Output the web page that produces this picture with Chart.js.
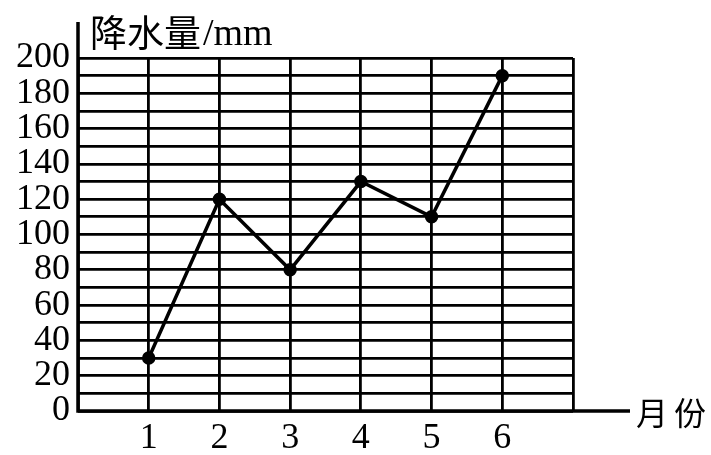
<!DOCTYPE html>
<html>
<head>
<meta charset="utf-8">
<script src="https://cdn.jsdelivr.net/npm/chart.js@4"></script>
<style>
  html, body { margin: 0; padding: 0; background: #fff; }
  #wrap { width: 711px; height: 455px; }
</style>
</head>
<body>
<div id="wrap"><canvas id="grafico" width="711" height="455"></canvas></div>
<script>
// dados
const meses = [1, 2, 3, 4, 5, 6];
const chuva = [30, 120, 80, 130, 110, 190];
const rotuloY = '降水量/mm';
const rotuloX = '月份';

const fonteNum = '"Liberation Serif", "DejaVu Serif", serif';
const fonteCJK = '"Noto Sans CJK SC", sans-serif';

// eixos prolongados e títulos
const eixosExtras = {
  id: 'eixosExtras',
  afterDraw(chart) {
    const { ctx, chartArea } = chart;
    ctx.save();
    ctx.strokeStyle = '#000';
    ctx.lineWidth = 3.5;
    ctx.beginPath();
    ctx.moveTo(chartArea.left, 22);
    ctx.lineTo(chartArea.left, chartArea.bottom);
    ctx.lineTo(630, chartArea.bottom);
    ctx.stroke();

    ctx.fillStyle = '#000';
    ctx.textBaseline = 'middle';
    ctx.textAlign = 'left';
    ctx.font = '37px ' + fonteCJK;
    ctx.fillText('降水量', 90, 33);
    ctx.font = '38px ' + fonteNum;
    ctx.fillText('/mm', 203, 35);
    ctx.font = '32px ' + fonteCJK;
    ctx.fillText(rotuloX[0], 636, 413);
    ctx.fillText(rotuloX[1], 674, 413);
    ctx.restore();
  }
};

new Chart(document.getElementById('grafico').getContext('2d'), {
  type: 'line',
  data: {
    datasets: [{
      label: rotuloY,
      data: meses.map((m, i) => ({ x: m, y: chuva[i] })),
      borderColor: '#000',
      backgroundColor: '#000',
      borderWidth: 3.5,
      pointRadius: 5,
      pointBackgroundColor: '#000',
      tension: 0
    }]
  },
  options: {
    responsive: false,
    animation: false,
    layout: { padding: { left: 0, right: 138, top: 58, bottom: 0 } },
    plugins: { legend: { display: false }, tooltip: { enabled: false } },
    scales: {
      x: {
        type: 'linear',
        min: 0,
        max: 7,
        border: { display: false },
        grid: { color: '#000', lineWidth: 2.8, drawTicks: false },
        ticks: {
          stepSize: 1,
          autoSkip: false,
          maxRotation: 0,
          padding: 6,
          color: '#000',
          font: { family: fonteNum, size: 36 },
          callback: v => (v >= 1 && v <= 6) ? String(v) : ''
        },
        afterFit: s => { s.height = 44; }
      },
      y: {
        min: 0,
        max: 200,
        border: { display: false },
        grid: { color: '#000', lineWidth: 2.8, drawTicks: false },
        ticks: {
          stepSize: 10,
          autoSkip: false,
          padding: 8,
          color: '#000',
          font: { family: fonteNum, size: 36 },
          callback: v => v % 20 === 0 ? String(v) : ''
        },
        afterFit: s => { s.width = 78; }
      }
    }
  },
  plugins: [eixosExtras]
});
</script>
</body>
</html>
